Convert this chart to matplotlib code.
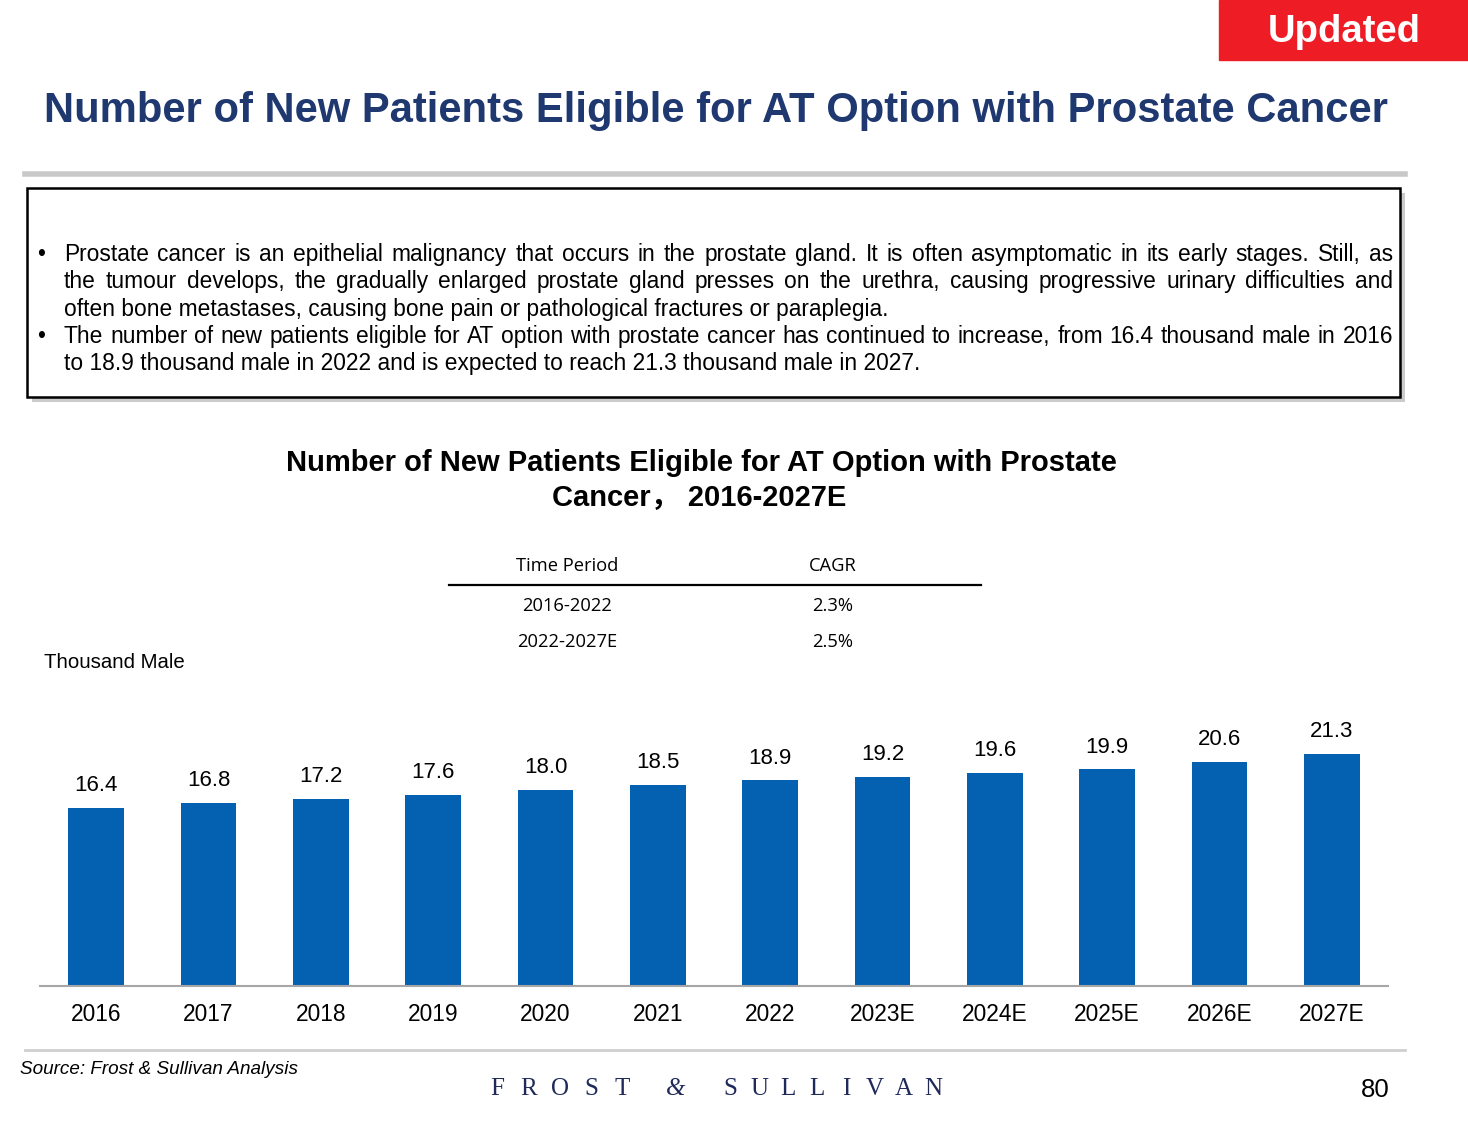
import matplotlib
matplotlib.use("Agg")
import matplotlib.pyplot as plt
from matplotlib.patches import Rectangle
import numpy as np

# data
years = ["2016", "2017", "2018", "2019", "2020", "2021", "2022",
         "2023E", "2024E", "2025E", "2026E", "2027E"]
patients = [16.4, 16.8, 17.2, 17.6, 18.0, 18.5, 18.9, 19.2, 19.6, 19.9, 20.6, 21.3]
cagr_periods = ["2016-2022", "2022-2027E"]
cagr_values = ["2.3%", "2.5%"]

bullet1 = ("Prostate cancer is an epithelial malignancy that occurs in the prostate gland. It is often asymptomatic in its early stages. Still, as|"
           "the tumour develops, the gradually enlarged prostate gland presses on the urethra, causing progressive urinary difficulties and|"
           "often bone metastases, causing bone pain or pathological fractures or paraplegia.")
bullet2 = ("The number of new patients eligible for AT option with prostate cancer has continued to increase, from 16.4 thousand male in 2016|"
           "to 18.9 thousand male in 2022 and is expected to reach 21.3 thousand male in 2027.")

W, H = 1468, 1125
plt.rcParams['font.family'] = ['Liberation Sans', 'DejaVu Sans']
fig = plt.figure(figsize=(W / 100, H / 100), dpi=100)
fig.patch.set_facecolor("white")


def fx(x):
    return x / W


def fy(y):
    return 1 - y / H


def px_text(x, y, s, **kw):
    return fig.text(fx(x), fy(y), s, **kw)


navy = "#1F3870"
bar_blue = "#0461B1"

# red "Updated" badge
fig.patches.append(Rectangle((fx(1219), fy(60)), fx(1468) - fx(1219), fy(0) - fy(60),
                             transform=fig.transFigure, color="#EE1C25", zorder=1))
px_text(1344, 32, "Updated", color="white", fontsize=27.5, fontweight="bold",
        ha="center", va="center")

# page title
px_text(44, 111, "Number of New Patients Eligible for AT Option with Prostate Cancer",
        color=navy, fontsize=30.1, fontweight="bold", ha="left", va="center")

# grey rules
fig.add_artist(plt.Line2D([fx(25), fx(1405)], [fy(174), fy(174)], color="#C8C8C8", lw=4))
fig.add_artist(plt.Line2D([fx(25), fx(1405)], [fy(1050), fy(1050)], color="#CFCFCF", lw=2))

# text box with shadow
fig.patches.append(Rectangle((fx(32), fy(402)), fx(1405) - fx(32), fy(193) - fy(402),
                             transform=fig.transFigure, facecolor="#BFBFBF",
                             edgecolor="none", zorder=1, alpha=0.8))
fig.patches.append(Rectangle((fx(27), fy(397)), fx(1400) - fx(27), fy(188) - fy(397),
                             transform=fig.transFigure, facecolor="white",
                             edgecolor="black", lw=1.8, zorder=2))

renderer = fig.canvas.get_renderer()
text_size = 16.4
x0, x1 = 64, 1393
line_y = 261
for para in [bullet1, bullet2]:
    px_text(37, line_y, "\u2022", fontsize=text_size, ha="left", va="baseline", zorder=3)
    lines = para.split("|")
    for i, line in enumerate(lines):
        last = i == len(lines) - 1
        if last:
            px_text(x0, line_y, line, fontsize=text_size, ha="left", va="baseline", zorder=3)
        else:
            # justified line: spread words between x0 and x1
            words = line.split(" ")
            arts = [px_text(x0, line_y, w, fontsize=text_size, ha="left", va="baseline", zorder=3)
                    for w in words]
            widths = [a.get_window_extent(renderer).width for a in arts]
            gap = (x1 - x0 - sum(widths)) / (len(words) - 1)
            xpos = x0
            for a, wdt in zip(arts, widths):
                a.set_x(fx(xpos))
                xpos += wdt + gap
        line_y += 27.3

# chart title
px_text(701, 463, "Number of New Patients Eligible for AT Option with Prostate",
        fontsize=21, fontweight="bold", ha="center", va="center")
px_text(699, 498, "Cancer\uff0c 2016-2027E", fontsize=21, fontweight="bold",
        ha="center", va="center", family=["Liberation Sans", "Noto Sans CJK SC"])

# CAGR table
tbl_font = dict(fontsize=13.2, family=["Open Sans", "DejaVu Sans"], ha="center", va="center")
px_text(567, 566, "Time Period", **tbl_font)
px_text(833, 566, "CAGR", **tbl_font)
fig.add_artist(plt.Line2D([fx(449), fx(981)], [fy(585), fy(585)], color="black", lw=1.6))
for j, (p, v) in enumerate(zip(cagr_periods, cagr_values)):
    px_text(567, 606 + 36 * j, p, **tbl_font)
    px_text(833, 606 + 36 * j, v, **tbl_font)

# unit label
px_text(44, 662, "Thousand Male", fontsize=14.7, ha="left", va="center")

# bar chart
ax_left, ax_right, ax_base, ax_top = 40, 1388, 986, 700
ax = fig.add_axes([fx(ax_left), fy(ax_base), fx(ax_right) - fx(ax_left), fy(ax_top) - fy(ax_base)])
x = np.arange(len(years))
ax.bar(x, patients, width=0.495, color=bar_blue, zorder=2)
ax.set_xlim(-0.5, len(years) - 0.5)
ax.set_ylim(0, (ax_base - ax_top) / 10.88)
for xi, v in zip(x, patients):
    ax.annotate(f"{v:.1f}", (xi, v), xytext=(0, 8.5), textcoords="offset points",
                ha="center", va="bottom", fontsize=16)
ax.set_xticks(x)
ax.set_xticklabels(years, fontsize=16.4)
ax.tick_params(axis="x", length=0, pad=12.5)
ax.set_yticks([])
for s in ["top", "right", "left"]:
    ax.spines[s].set_visible(False)
ax.spines["bottom"].set_color("#A6A6A6")
ax.spines["bottom"].set_linewidth(1.5)
ax.patch.set_alpha(0)

# footer
px_text(20, 1070, "Source: Frost & Sullivan Analysis", fontsize=13.6, style="italic",
        ha="left", va="center")
serif = dict(fontsize=18, family=["Liberation Serif", "DejaVu Serif"], color="#1F2A5A",
             ha="center", va="center")
word1, word2 = "FROST", "SULLIVAN"
for k, ch in enumerate(word1):
    px_text(497 + k * 31.3, 1089, ch, **serif)
px_text(676, 1089, "&", style="italic", **serif)
for k, ch in enumerate(word2):
    px_text(730 + k * 29.0, 1089, ch, **serif)
px_text(1375, 1090, "80", fontsize=18.5, ha="center", va="center")

fig.savefig("out.png", dpi=100)
